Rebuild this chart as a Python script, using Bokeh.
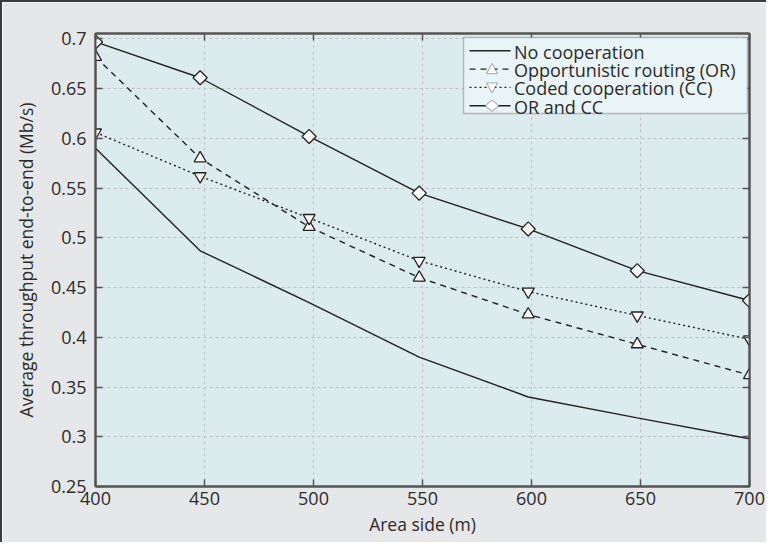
import math
from bokeh.plotting import figure
from bokeh.models import (Range1d, LinearAxis, FixedTicker, Label, BoxAnnotation,
                          Arrow, PolyAnnotation)
from bokeh.embed import file_html
from bokeh.resources import INLINE

# Data
area_side = [400, 448, 498, 548.5, 598.5, 648.5, 700]
no_coop = [0.590, 0.487, 0.435, 0.380, 0.340, 0.319, 0.298]
opp_routing = [0.682, 0.580, 0.511, 0.460, 0.423, 0.393, 0.362]
coded_coop = [0.606, 0.562, 0.520, 0.477, 0.446, 0.422, 0.398]
or_and_cc = [0.697, 0.661, 0.602, 0.545, 0.509, 0.467, 0.437]

series_names = ["No cooperation", "Opportunistic routing (OR)",
                "Coded cooperation (CC)", "OR and CC"]
x_ticks = [400, 450, 500, 550, 600, 650, 700]
y_ticks = [0.25, 0.3, 0.35, 0.4, 0.45, 0.5, 0.55, 0.6, 0.65, 0.7]

FONT = "Open Sans"
TXT = "#2b2b2b"
LINE = "#222222"
AX = "#555555"

W, H = 766, 542
BL, BR, BT, BB = 93, 19, 31, 58
FW, FH = W - BL - BR, H - BT - BB

p = figure(width=W, height=H, output_backend="svg", toolbar_location=None,
           x_range=Range1d(400, 700), y_range=Range1d(0.25, 0.7055),
           min_border_left=BL, min_border_right=BR, min_border_top=BT, min_border_bottom=BB)
p.styles = {"border-left": "2px solid #3c3c3c", "border-top": "2px solid #3c3c3c"}

p.background_fill_color = "#dcebee"
p.border_fill_color = "#e6e7e8"
p.outline_line_color = AX
p.outline_line_width = 2

for ax in p.xaxis + p.yaxis:
    ax.major_tick_in = 7
    ax.major_tick_out = 0
    ax.minor_tick_line_color = None
    ax.axis_line_color = AX
    ax.axis_line_width = 2
    ax.major_tick_line_color = AX
    ax.major_tick_line_width = 1.5
    ax.major_label_text_font = FONT
    ax.major_label_text_font_size = "18px"
    ax.major_label_text_color = TXT
    ax.axis_label_text_font = FONT
    ax.axis_label_text_font_size = "17.5px"
    ax.axis_label_text_font_style = "normal"
    ax.axis_label_text_color = TXT

p.xaxis.ticker = FixedTicker(ticks=x_ticks)
p.yaxis.ticker = FixedTicker(ticks=y_ticks)
p.xaxis.major_label_overrides = {t: str(t) for t in x_ticks}
p.yaxis.major_label_overrides = {t: ("%g" % t) for t in y_ticks}
p.xaxis.axis_label = "Area side (m)"
p.yaxis.axis_label = "Average throughput end-to-end (Mb/s)"
p.xaxis.major_label_standoff = 5
p.yaxis.major_label_standoff = 9
p.xaxis.axis_label_standoff = 4
p.yaxis.axis_label_standoff = 10

top = LinearAxis(ticker=FixedTicker(ticks=x_ticks), major_tick_in=7, major_tick_out=0,
                 minor_tick_line_color=None, axis_line_color=AX, axis_line_width=2,
                 major_tick_line_color=AX, major_tick_line_width=1.5,
                 major_label_text_font_size="0px", major_label_text_color=None)
right = LinearAxis(ticker=FixedTicker(ticks=y_ticks), major_tick_in=7, major_tick_out=0,
                   minor_tick_line_color=None, axis_line_color=AX, axis_line_width=2,
                   major_tick_line_color=AX, major_tick_line_width=1.5,
                   major_label_text_font_size="0px", major_label_text_color=None)
p.add_layout(top, "above")
p.add_layout(right, "right")

p.xgrid.ticker = FixedTicker(ticks=x_ticks)
p.ygrid.ticker = FixedTicker(ticks=y_ticks)
for g in (p.xgrid[0], p.ygrid[0]):
    g.grid_line_color = "#c2c2c2"
    g.grid_line_dash = "3 3"
    g.grid_line_width = 1

lw = 1.4
dashes = ["solid", "6 5", "2 3", "solid"]
p.line(area_side, no_coop, line_color=LINE, line_width=lw)
p.line(area_side, opp_routing, line_color=LINE, line_width=lw, line_dash=dashes[1])
p.scatter(area_side, opp_routing, marker="triangle", size=12, fill_color="white",
          line_color=LINE, line_width=1.3)
p.line(area_side, coded_coop, line_color=LINE, line_width=lw, line_dash=dashes[2])
p.scatter(area_side, coded_coop, marker="inverted_triangle", size=12, fill_color="white",
          line_color=LINE, line_width=1.3)
p.line(area_side, or_and_cc, line_color=LINE, line_width=lw)
p.scatter(area_side, or_and_cc, marker="square", size=10, angle=math.pi / 4,
          fill_color="white", line_color=LINE, line_width=1.3)

# ---- legend, drawn with annotations in screen units (frame-relative, y from bottom)
LEG_L, LEG_R = FW - 286, FW - 2
LEG_T, LEG_B = FH - 4, FH - 80
ROW0, ROW_STEP = FH - 17.3, 18.3
G_X0, G_X1 = LEG_L + 6, LEG_L + 47
G_CX = (G_X0 + G_X1) / 2 + 2
TEXT_X = LEG_L + 50.5

p.add_layout(BoxAnnotation(left=LEG_L, right=LEG_R, top=LEG_T, bottom=LEG_B,
                           left_units="screen", right_units="screen",
                           top_units="screen", bottom_units="screen",
                           fill_color="#e9f4f6", fill_alpha=1,
                           line_color="#3a3a3a", line_width=1.5, level="annotation"))

for i, name in enumerate(series_names):
    cy = ROW0 - ROW_STEP * i
    p.add_layout(Arrow(x_start=G_X0, y_start=cy, x_end=G_X1, y_end=cy,
                       start_units="screen", end_units="screen", end=None,
                       line_color=LINE, line_width=lw, line_dash=dashes[i],
                       level="overlay"))
    if i == 1:
        xs, ys = [G_CX - 5.5, G_CX + 5.5, G_CX], [cy - 4.5, cy - 4.5, cy + 5.5]
    elif i == 2:
        xs, ys = [G_CX - 5.5, G_CX + 5.5, G_CX], [cy + 4.5, cy + 4.5, cy - 5.5]
    elif i == 3:
        xs, ys = [G_CX - 7, G_CX, G_CX + 7, G_CX], [cy, cy + 5.5, cy, cy - 5.5]
    else:
        xs = ys = None
    if xs is not None:
        p.add_layout(PolyAnnotation(xs=xs, ys=ys, xs_units="screen", ys_units="screen",
                                    fill_color="white", fill_alpha=1, line_color=LINE,
                                    line_width=1.2, level="overlay"))
    p.add_layout(Label(x=TEXT_X, y=cy - 1, x_units="screen", y_units="screen", text=name,
                       text_font=FONT, text_font_size="18px", text_color=TXT,
                       text_baseline="middle", text_align="left", level="overlay"))

open("out.html", "w").write(file_html(p, INLINE))
